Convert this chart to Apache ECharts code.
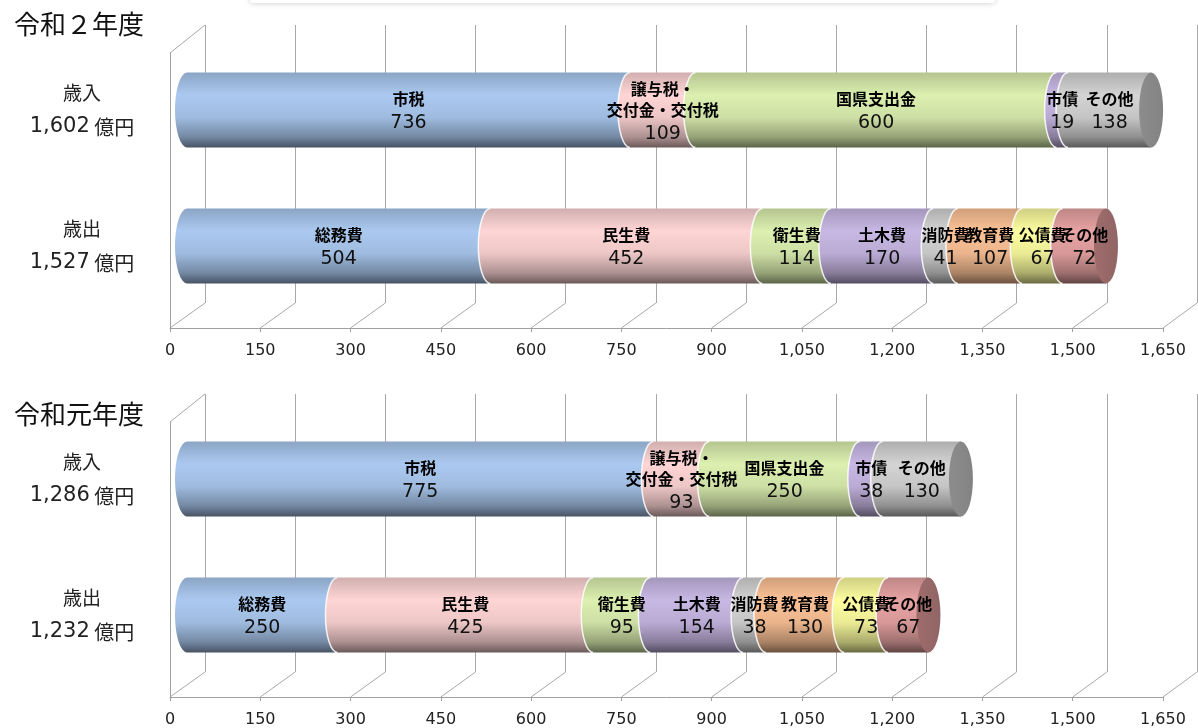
<!DOCTYPE html>
<html>
<head>
<meta charset="utf-8">
<script src="https://cdn.jsdelivr.net/npm/echarts@6/dist/echarts.min.js"></script>
<style>
  html, body { margin: 0; padding: 0; background: #fff; }
  #main { width: 1198px; height: 728px; }
</style>
</head>
<body>
<div id="main"></div>
<script>
// data
const categories = ['歳入', '歳出'];
const panelTitles = ['令和２年度', '令和元年度'];
const incomeNames = ['市税', '譲与税・\n交付金・交付税', '国県支出金', '市債', 'その他'];
const expenseNames = ['総務費', '民生費', '衛生費', '土木費', '消防費', '教育費', '公債費', 'その他'];
const incomeR2 = [736, 109, 600, 19, 138];
const expenseR2 = [504, 452, 114, 170, 41, 107, 67, 72];
const incomeR1 = [775, 93, 250, 38, 130];
const expenseR1 = [250, 425, 95, 154, 38, 130, 73, 67];
const axisMax = 1650;
const axisStep = 150;

// colours
const incomeColors = ['#abc9f0', '#ffd5d5', '#dcf0b0', '#c8b8e4', '#d4d4d4'];
const expenseColors = ['#abc9f0', '#ffd5d5', '#dcf0b0', '#c8b8e4', '#d4d4d4', '#fcc296', '#fdfda0', '#e8a3a3'];
const capColors = ['#8c8c8c', '#a06c6c'];

const numFont = "'DejaVu Sans', sans-serif";
const jpFont = "'Noto Sans CJK JP', sans-serif";

function shade(hex, f) {
    const n = parseInt(hex.slice(1), 16);
    const r = Math.round(((n >> 16) & 255) * f);
    const g = Math.round(((n >> 8) & 255) * f);
    const b = Math.round((n & 255) * f);
    return 'rgb(' + r + ',' + g + ',' + b + ')';
}
function cylFill(hex) {
    return {
        type: 'linear', x: 0, y: 0, x2: 0, y2: 1,
        colorStops: [
            { offset: 0, color: shade(hex, 0.82) },
            { offset: 0.3, color: hex },
            { offset: 0.6, color: shade(hex, 0.93) },
            { offset: 0.86, color: shade(hex, 0.68) },
            { offset: 1, color: shade(hex, 0.42) }
        ]
    };
}

function buildSegments(values, names, colors, cat) {
    let s = 0;
    return values.map((v, i) => {
        const seg = {
            value: [cat, s, s + v, v],
            name: names[i],
            color: colors[i],
            first: i === 0,
            last: i === values.length - 1,
            cap: capColors[cat]
        };
        s += v;
        return seg;
    });
}

const panels = [
    { income: incomeR2, expense: expenseR2, dy: 0 },
    { income: incomeR1, expense: expenseR1, dy: 369 }
];

const sum = arr => arr.reduce((a, b) => a + b, 0);
const fmt = v => v.toLocaleString('en-US');

const grids = [], xAxes = [], yAxes = [], series = [], titles = [];

panels.forEach((p, pi) => {
    const dy = p.dy;
    const totals = [sum(p.income), sum(p.expense)];
    // back wall
    grids.push({ left: 205, top: 25 + dy, width: 992, height: 278 });
    // front floor
    grids.push({ left: 170, top: 53 + dy, width: 993, height: 275 });
    // bars
    grids.push({ left: 187, top: 42 + dy, width: 993, height: 272 });

    const base = pi * 3;
    xAxes.push({
        gridIndex: base, type: 'value', min: 0, max: axisMax, interval: axisStep,
        axisLine: { show: false }, axisTick: { show: false }, axisLabel: { show: false },
        splitLine: { show: true, showMinLine: true, showMaxLine: true, lineStyle: { color: '#a8a8a8', width: 1 } }
    });
    xAxes.push({
        gridIndex: base + 1, type: 'value', min: 0, max: axisMax, interval: axisStep,
        axisLine: { show: true, lineStyle: { color: '#a0a0a0' } },
        axisTick: { show: true, length: 4, lineStyle: { color: '#a0a0a0' } },
        axisLabel: { show: true, margin: 15, fontSize: 16, fontFamily: numFont, color: '#222', formatter: v => fmt(v) },
        splitLine: { show: false }
    });
    xAxes.push({
        gridIndex: base + 2, type: 'value', min: 0, max: axisMax, interval: axisStep, show: false
    });
    yAxes.push({
        gridIndex: base, type: 'value', min: 0, max: 1, show: false
    });
    yAxes.push({
        gridIndex: base + 1, type: 'value', min: 0, max: 1,
        axisLine: { show: true, lineStyle: { color: '#a0a0a0' } },
        axisTick: { show: false }, axisLabel: { show: false }, splitLine: { show: false }
    });
    yAxes.push({
        gridIndex: base + 2, type: 'category', data: categories, inverse: true,
        axisLine: { show: false }, axisTick: { show: false }, splitLine: { show: false },
        axisLabel: {
            margin: 105, align: 'center',
            formatter: (v, i) => '{a|' + v + '}\n{b|' + fmt(totals[i]) + '}{c| 億円}',
            rich: {
                a: { fontSize: 19, fontFamily: jpFont, color: '#222', lineHeight: 34 },
                b: { fontSize: 21, fontFamily: numFont, color: '#222', lineHeight: 34 },
                c: { fontSize: 20, fontFamily: jpFont, color: '#222', lineHeight: 34 }
            }
        }
    });

    const segs = buildSegments(p.income, incomeNames, incomeColors, 0)
        .concat(buildSegments(p.expense, expenseNames, expenseColors, 1));

    series.push({
        type: 'custom',
        xAxisIndex: base + 2,
        yAxisIndex: base + 2,
        encode: { x: [1, 2], y: 0 },
        data: segs.map(s => s.value),
        renderItem: function (params, api) {
            const seg = segs[params.dataIndex];
            const cat = api.value(0);
            const a = api.coord([api.value(1), cat]);
            const b = api.coord([api.value(2), cat]);
            const h = api.size([0, 1])[1] * 0.55;
            const ry = h / 2, rx = 12;
            const cy = a[1], y0 = cy - ry, y1 = cy + ry, xs = a[0], xe = b[0];
            const children = [];
            children.push({
                type: 'path',
                shape: { pathData: 'M' + xs + ' ' + y0 + ' A' + rx + ' ' + ry + ' 0 0 0 ' + xs + ' ' + y1 +
                    ' L' + xe + ' ' + y1 + ' L' + xe + ' ' + y0 + ' Z' },
                style: { fill: cylFill(seg.color), stroke: null },
                z2: 1
            });
            if (!seg.first) {
                children.push({
                    type: 'path',
                    shape: { pathData: 'M' + xs + ' ' + y0 + ' A' + rx + ' ' + ry + ' 0 0 0 ' + xs + ' ' + y1 },
                    style: { fill: null, stroke: 'rgba(255,255,255,0.85)', lineWidth: 1.5 },
                    z2: 2
                });
            }
            if (seg.last) {
                children.push({
                    type: 'path',
                    shape: { pathData: 'M' + (xe - rx) + ' ' + cy + ' A' + rx + ' ' + ry + ' 0 1 0 ' + (xe + rx) + ' ' + cy +
                        ' A' + rx + ' ' + ry + ' 0 1 0 ' + (xe - rx) + ' ' + cy + ' Z' },
                    style: {
                        fill: {
                            type: 'linear', x: 0, y: 0, x2: 1, y2: 0,
                            colorStops: [
                                { offset: 0, color: seg.cap },
                                { offset: 1, color: shade(seg.color, 0.62) }
                            ]
                        },
                        stroke: null
                    },
                    z2: 3
                });
            }
            const lines = seg.name.split('\n').map(t => '{n|' + t + '}');
            lines.push('{v|' + api.value(3) + '}');
            children.push({
                type: 'text',
                z2: 20,
                style: {
                    x: (xs + xe) / 2,
                    y: cy + 3,
                    align: 'center',
                    verticalAlign: 'middle',
                    text: lines.join('\n'),
                    rich: {
                        n: { fontSize: 16, fontWeight: 'bold', fontFamily: jpFont, fill: '#000', lineHeight: 21 },
                        v: { fontSize: 19, fontFamily: numFont, fill: '#111', lineHeight: 28 }
                    }
                }
            });
            return { type: 'group', children: children };
        }
    });
});

titles.push({ text: panelTitles[0], left: 9, top: 6, textStyle: { fontSize: 26, fontWeight: 'normal', fontFamily: jpFont, color: '#111' } });
titles.push({ text: panelTitles[1], left: 9, top: 396, textStyle: { fontSize: 26, fontWeight: 'normal', fontFamily: jpFont, color: '#111' } });

const chart = echarts.init(document.getElementById('main'), null, { renderer: 'canvas' });
chart.setOption({
    animation: false,
    backgroundColor: '#fff',
    title: titles,
    grid: grids,
    xAxis: xAxes,
    yAxis: yAxes,
    series: series
});

// floor / side wall diagonals from axis ticks
const graphics = [{
    type: 'rect',
    shape: { x: 250, y: -30, width: 745, height: 33, r: 3 },
    style: { fill: '#fff', shadowBlur: 6, shadowColor: 'rgba(0,0,0,0.22)' },
    silent: true
}];
const lineStyle = { stroke: '#a8a8a8', lineWidth: 1 };
panels.forEach((p, pi) => {
    const back = pi * 3, front = pi * 3 + 1;
    const fy0 = chart.convertToPixel({ yAxisIndex: front }, 0);
    const fy1 = chart.convertToPixel({ yAxisIndex: front }, 1);
    const by0 = chart.convertToPixel({ yAxisIndex: back }, 0);
    const by1 = chart.convertToPixel({ yAxisIndex: back }, 1);
    for (let v = 0; v <= axisMax; v += axisStep) {
        const fx = chart.convertToPixel({ xAxisIndex: front }, v);
        const bx = chart.convertToPixel({ xAxisIndex: back }, v);
        graphics.push({ type: 'line', shape: { x1: fx, y1: fy0, x2: bx, y2: by0 }, style: lineStyle, silent: true });
    }
    const fx0 = chart.convertToPixel({ xAxisIndex: front }, 0);
    const bx0 = chart.convertToPixel({ xAxisIndex: back }, 0);
    graphics.push({ type: 'line', shape: { x1: fx0, y1: fy1, x2: bx0, y2: by1 }, style: lineStyle, silent: true });
});
chart.setOption({ graphic: graphics });
</script>
</body>
</html>
